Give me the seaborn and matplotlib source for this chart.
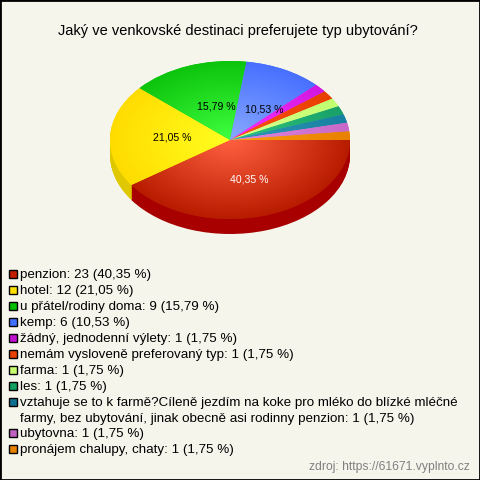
import numpy as np
import matplotlib
matplotlib.use("Agg")
import matplotlib.pyplot as plt
from matplotlib.colors import LinearSegmentedColormap
from matplotlib.patches import Rectangle
import seaborn as sns

title = "Jaký ve venkovské destinaci preferujete typ ubytování?"
source = "zdroj: https://61671.vyplnto.cz"

categories = ["penzion", "hotel", "u přátel/rodiny doma", "kemp",
              "žádný, jednodenní výlety", "nemám vysloveně preferovaný typ",
              "farma", "les",
              "vztahuje se to k farmě?Cíleně jezdím na koke pro mléko do blízké mléčné\n"
              "farmy, bez ubytování, jinak obecně asi rodinny penzion",
              "ubytovna", "pronájem chalupy, chaty"]
counts = [23, 12, 9, 6, 1, 1, 1, 1, 1, 1, 1]
percents = ["40,35", "21,05", "15,79", "10,53", "1,75", "1,75", "1,75", "1,75", "1,75", "1,75", "1,75"]

legend_colors = ["#c41e00", "#ffe000", "#00c000", "#4070ff", "#c010d0", "#e84000",
                 "#c8ff70", "#10a060", "#107090", "#c060c0", "#e88000"]
inner_colors = ["#ff6040", "#ffff20", "#40ff40", "#88aaff", "#ff30ff", "#ff5010",
                "#ddff90", "#30c880", "#3098b8", "#e088e0", "#ffa010"]
outer_colors = ["#b81c00", "#ffdc00", "#0cc40c", "#4870ff", "#d018e0", "#e84000",
                "#c0ff70", "#18a068", "#1880a0", "#c868c8", "#e88000"]
side_colors = ["#a80000", "#e0c800"] + ["none"] * 9

bg = "#f5f5ec"
sns.set_style("white")
plt.rcParams["font.family"] = ["Liberation Sans", "DejaVu Sans"]

fig = plt.figure(figsize=(4.8, 4.8), dpi=100, facecolor=bg)
fig.add_artist(Rectangle((0, 0), 1, 1, transform=fig.transFigure, fill=False,
                         edgecolor="black", linewidth=2))

# axes is 240 px wide, ellipse is 158 px high
ax = fig.add_axes([110 / 480, 1 - 240 / 480, 240 / 480, 179 / 480])
ax.set_facecolor("none")

no_edge = {"linewidth": 0, "edgecolor": "none"}
for d in np.linspace(0.19, 0.01, 19):
    ax.pie(counts, colors=side_colors, startangle=0, counterclock=False,
           radius=1, center=(0, -d), wedgeprops=no_edge)


def pct_label(p):
    return f"{p:.2f} %".replace(".", ",") if p > 5 else ""


wedges, _, autotexts = ax.pie(counts, colors=outer_colors, startangle=0, counterclock=False,
                              radius=1, center=(0, 0), autopct=pct_label, pctdistance=0.52,
                              wedgeprops=no_edge,
                              textprops={"fontsize": 7.6, "color": "black"})
autotexts[0].set_color("white")

# radial shading, one image per slice
yy, xx = np.mgrid[1:-1:200j, -1:1:300j]
rr = np.clip(np.sqrt(xx ** 2 + yy ** 2), 0, 1)
for w, c_in, c_out in zip(wedges, inner_colors, outer_colors):
    cmap = LinearSegmentedColormap.from_list("s", [c_in, c_out])
    im = ax.imshow(rr, cmap=cmap, vmin=0, vmax=1, extent=(-1, 1, -1, 1), aspect="auto", zorder=1.5)
    im.set_clip_path(w)
ax.set_xlim(-1, 1)
ax.set_ylim(-1.266, 1)
ax.set_aspect("auto")

# nudge the four labels, in px
label_nudge = [(1, 0), (5, 0), (8, -5), (6, -6)]
for t, (dx, dy) in zip(autotexts, label_nudge):
    px, py = t.get_position()
    t.set_position((px + dx / 120, py + dy / 79))
for t in autotexts:
    t.set_zorder(3)

fig.text(238 / 480, 1 - 30.5 / 480, title, ha="center", va="center", fontsize=10.5, color="black")

row_y = [274, 290, 306, 322, 338, 354, 370, 386, 402, 433, 449]
for name, n, pc, col, y in zip(categories, counts, percents, legend_colors, row_y):
    fig.add_artist(Rectangle((9.3 / 480, 1 - (y + 3.8) / 480), 7.4 / 480, 7.4 / 480,
                             transform=fig.transFigure, facecolor=col,
                             edgecolor="black", linewidth=1))
    fig.text(20 / 480, 1 - (y - 5) / 480, f"{name}: {n} ({pc} %)", ha="left", va="top",
             fontsize=9.6, color="black", linespacing=1.4)

fig.text(470 / 480, 1 - 467 / 480, source, ha="right", va="center", fontsize=8.7, color="#808080")

fig.savefig("out.png", dpi=100, facecolor=bg)
